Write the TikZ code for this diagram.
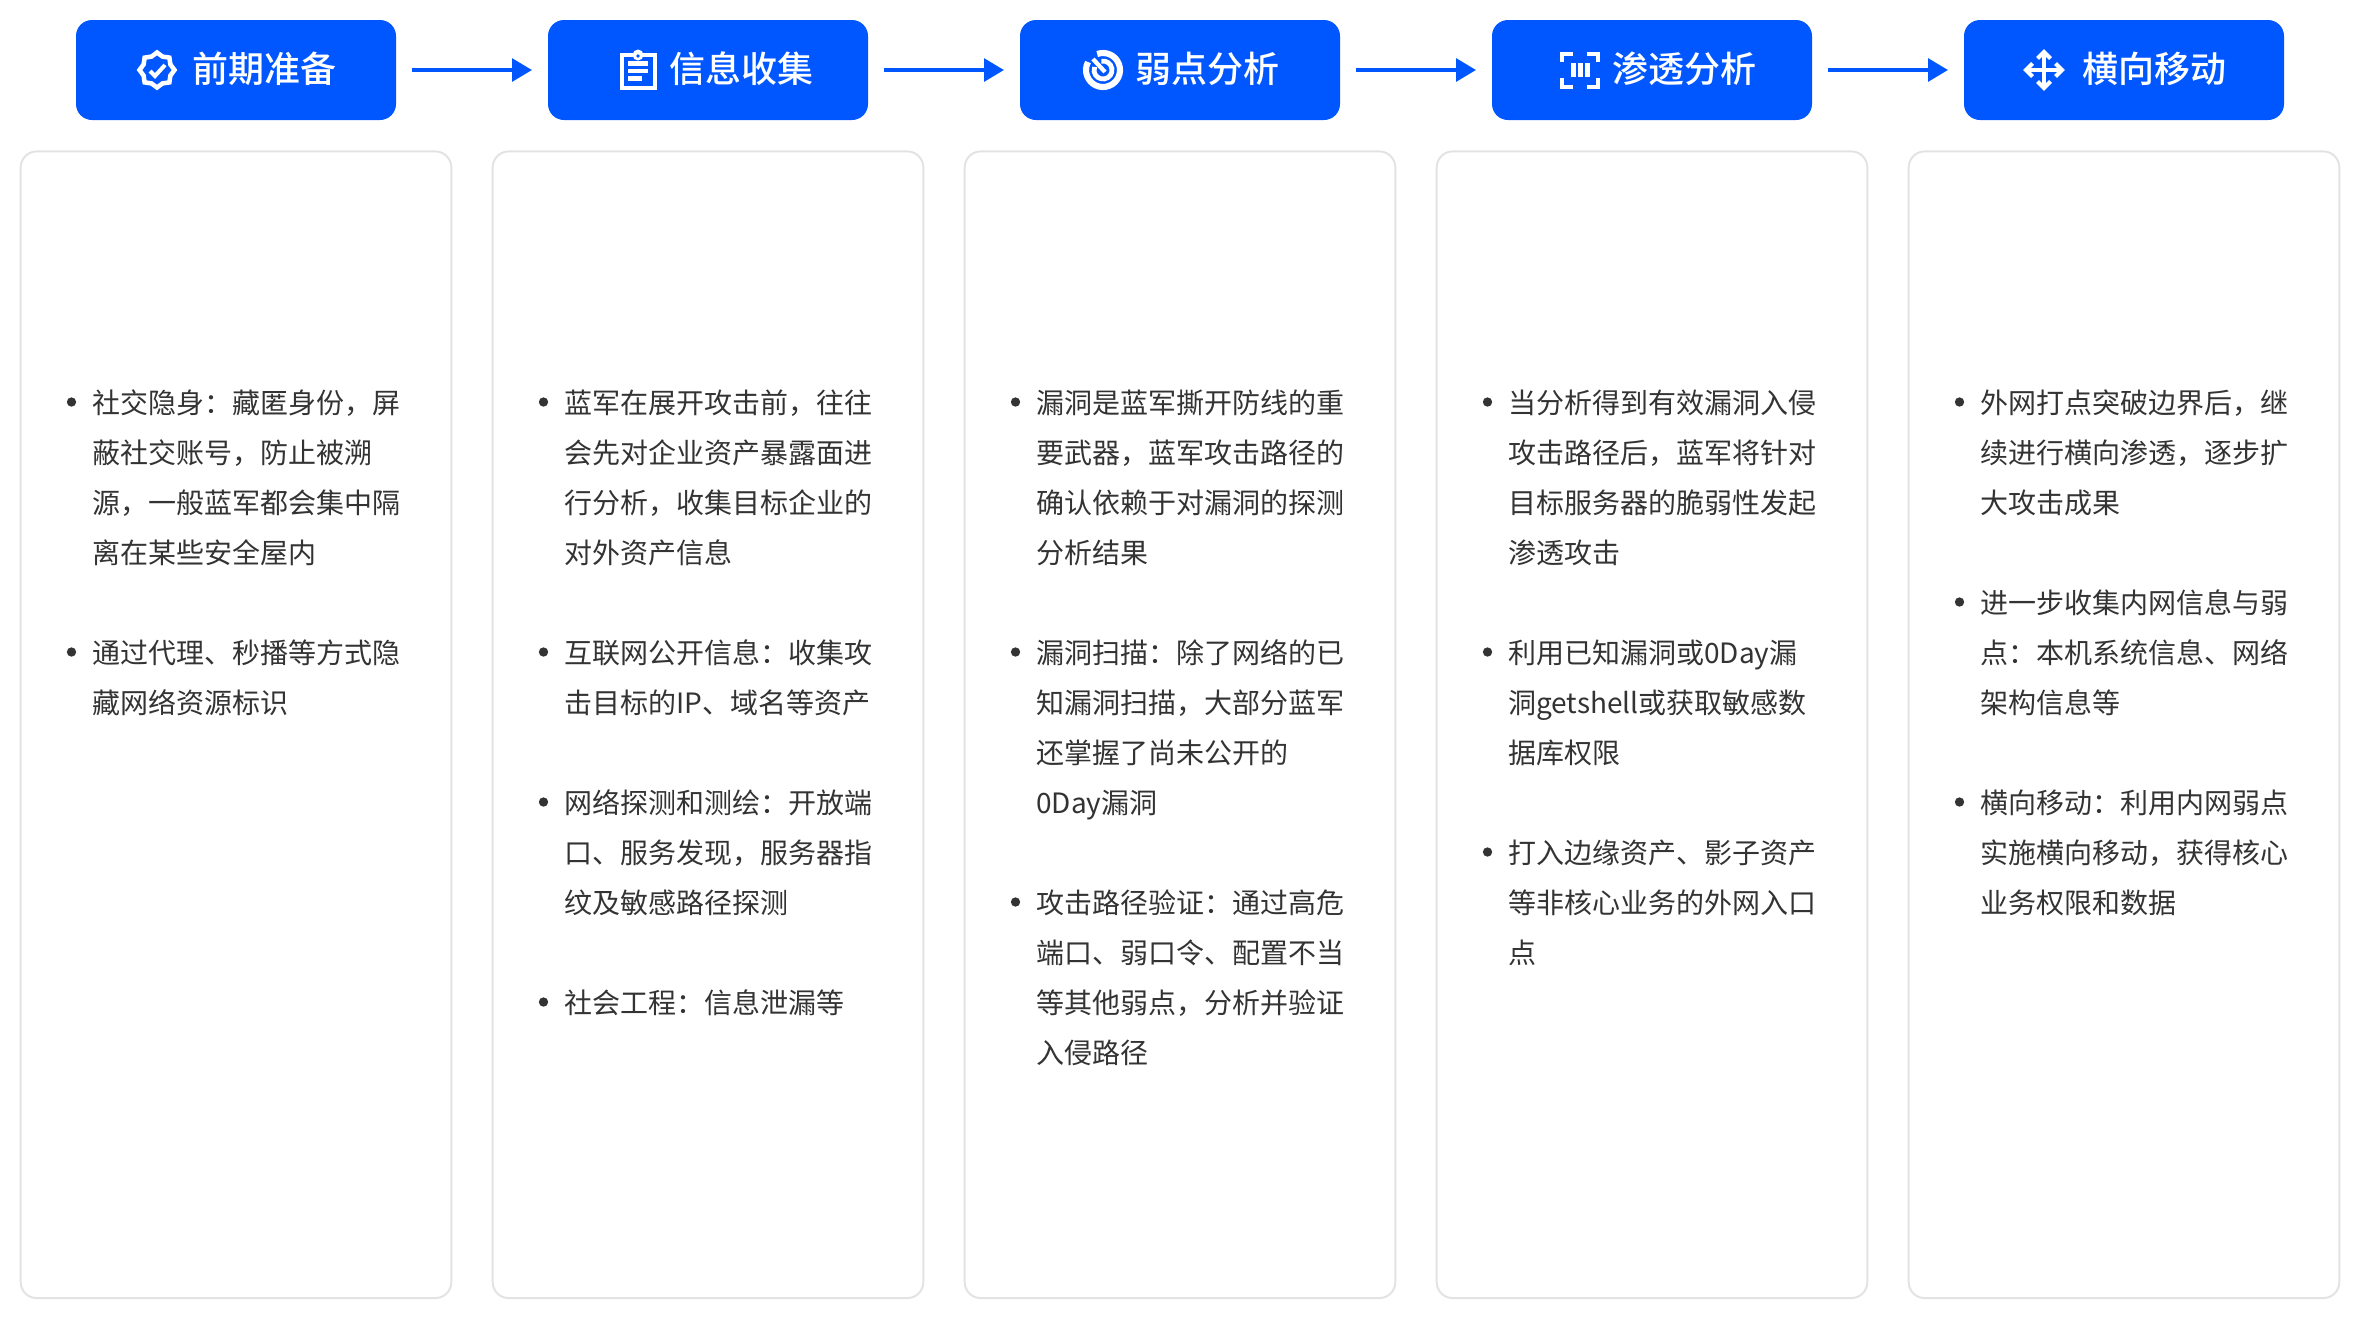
\documentclass[tikz,border=0pt]{standalone}
\usepackage{fontspec}
\usetikzlibrary{arrows.meta}
\setmainfont{Noto Sans CJK SC}
\newfontfamily\headfont[UprightFont=* Medium]{Noto Sans CJK SC}
\definecolor{headblue}{RGB}{0,87,255}
\definecolor{cardgray}{RGB}{227,227,227}
\definecolor{textgray}{RGB}{51,51,51}
\tikzset{
  headbox/.style={fill=headblue,rounded corners=12pt,minimum width=240pt,minimum height=75pt,inner sep=0pt,outer sep=0pt},
  cardbox/.style={draw=cardgray,line width=1.5pt,rounded corners=12pt,minimum width=323pt,minimum height=860pt,inner sep=0pt},
  headtext/.style={text=white,inner sep=0pt,font=\headfont\fontsize{27}{30}\selectfont},
  flowarrow/.style={draw=headblue,line width=3pt,shorten >=12pt,shorten <=12pt,-{Triangle[length=15pt,width=17pt]}},
  itemtext/.style={anchor=north west,inner sep=0pt,align=left,text=textgray,font=\fontsize{21}{37.5}\selectfont},
  itemdot/.style={circle,fill=textgray,minimum size=7pt,inner sep=0pt},
  iconline/.style={draw=white,line width=3pt}
}
\begin{document}
\begin{tikzpicture}[x=0.75pt,y=0.75pt,yscale=-1,xscale=1]
\useasboundingbox (0,0) rectangle (2360,1340);

%Rounded Rect
\node [headbox] (prepare) at (236,70) {};
\node [headbox] (collect) at (708,70) {};
\node [headbox] (weak) at (1180,70) {};
\node [headbox] (pentest) at (1652,70) {};
\node [headbox] (lateral) at (2124,70) {};

%Straight Lines
\draw [flowarrow] (prepare) -- (collect);
\draw [flowarrow] (collect) -- (weak);
\draw [flowarrow] (weak) -- (pentest);
\draw [flowarrow] (pentest) -- (lateral);

% Text Node
\node [headtext] (preparetext) at (264,69) {前期准备};
\node [headtext] (collecttext) at (741.5,69) {信息收集};
\node [headtext] (weaktext) at (1207.5,69) {弱点分析};
\node [headtext] (pentesttext) at (1684.5,69) {渗透分析};
\node [headtext] (lateraltext) at (2154.5,69) {横向移动};

%Shape: Badge
\begin{scope}[shift={(157,70)}]
\draw [iconline,line width=3.4pt,line join=miter] (0:17.5) \foreach \a in {45,90,...,360} { -- (\a-22.5:14.5) -- (\a:17.5) } -- cycle;
\draw [iconline,line join=miter] (-7,1) -- (-2,6) -- (8,-5);
\end{scope}

%Shape: Clipboard
\draw [iconline] (622,55) rectangle (655,88);
\fill [white] (638,55) circle (5.5);
\fill [headblue] (638,56) circle (1.8);
\fill [white] (628,61) rectangle (648,65.5);
\fill [white] (628,68.5) rectangle (648,73);
\fill [white] (628,76) rectangle (642,81);

%Shape: Radar
\begin{scope}[shift={(1103,70)}]
\draw [draw=white,line width=4.6pt] (-110:17) arc [start angle=-110,end angle=208,radius=17];
\draw [draw=white,line width=3.6pt] (-100:9) arc [start angle=-100,end angle=200,radius=9];
\draw [draw=white,line width=3.2pt] (2,2) -- (-10,-11);
\end{scope}

%Shape: Scan
\draw [iconline] (1562,62) -- (1562,53.5) -- (1573,53.5);
\draw [iconline] (1587,53.5) -- (1598,53.5) -- (1598,62);
\draw [iconline] (1598,78) -- (1598,86.5) -- (1587,86.5);
\draw [iconline] (1573,86.5) -- (1562,86.5) -- (1562,78);
\fill [white] (1570.5,63) rectangle (1576,77);
\fill [white] (1577.5,63) rectangle (1583,77);
\fill [white] (1584.5,63) rectangle (1590,77);

%Shape: Move
\begin{scope}[shift={(2044,70)}]
\draw [draw=white,line width=2.5pt] (-18,0) -- (18,0);
\draw [draw=white,line width=2.5pt] (0,-18) -- (0,18);
\foreach \r in {0,90,180,270} {
\draw [iconline,rotate=\r] (-6.5,-11.5) -- (0,-18) -- (6.5,-11.5);
}
\end{scope}

%Rounded Rect
\node [cardbox] (card1) at (236,724.75) {};
\node [cardbox] (card2) at (708,724.75) {};
\node [cardbox] (card3) at (1180,724.75) {};
\node [cardbox] (card4) at (1652,724.75) {};
\node [cardbox] (card5) at (2124,724.75) {};

% Text Node
\node [itemdot] (dot11) at (71.5,402) {};
\node [itemtext] (item11) at (92,389.6) {社交隐身：藏匿身份，屏\\蔽社交账号，防止被溯\\源，一般蓝军都会集中隔\\离在某些安全屋内};
\node [itemdot] (dot12) at (71.5,652) {};
\node [itemtext] (item12) at (92,639.6) {通过代理、秒播等方式隐\\藏网络资源标识};

% Text Node
\node [itemdot] (dot21) at (543.5,402) {};
\node [itemtext] (item21) at (564,389.6) {蓝军在展开攻击前，往往\\会先对企业资产暴露面进\\行分析，收集目标企业的\\对外资产信息};
\node [itemdot] (dot22) at (543.5,652) {};
\node [itemtext] (item22) at (564,639.6) {互联网公开信息：收集攻\\击目标的IP、域名等资产};
\node [itemdot] (dot23) at (543.5,802) {};
\node [itemtext] (item23) at (564,789.6) {网络探测和测绘：开放端\\口、服务发现，服务器指\\纹及敏感路径探测};
\node [itemdot] (dot24) at (543.5,1002) {};
\node [itemtext] (item24) at (564,989.6) {社会工程：信息泄漏等};

% Text Node
\node [itemdot] (dot31) at (1015.5,402) {};
\node [itemtext] (item31) at (1036,389.6) {漏洞是蓝军撕开防线的重\\要武器，蓝军攻击路径的\\确认依赖于对漏洞的探测\\分析结果};
\node [itemdot] (dot32) at (1015.5,652) {};
\node [itemtext] (item32) at (1036,639.6) {漏洞扫描：除了网络的已\\知漏洞扫描，大部分蓝军\\还掌握了尚未公开的\\0Day漏洞};
\node [itemdot] (dot33) at (1015.5,902) {};
\node [itemtext] (item33) at (1036,889.6) {攻击路径验证：通过高危\\端口、弱口令、配置不当\\等其他弱点，分析并验证\\入侵路径};

% Text Node
\node [itemdot] (dot41) at (1487.5,402) {};
\node [itemtext] (item41) at (1508,389.6) {当分析得到有效漏洞入侵\\攻击路径后，蓝军将针对\\目标服务器的脆弱性发起\\渗透攻击};
\node [itemdot] (dot42) at (1487.5,652) {};
\node [itemtext] (item42) at (1508,639.6) {利用已知漏洞或0Day漏\\洞getshell或获取敏感数\\据库权限};
\node [itemdot] (dot43) at (1487.5,852) {};
\node [itemtext] (item43) at (1508,839.6) {打入边缘资产、影子资产\\等非核心业务的外网入口\\点};

% Text Node
\node [itemdot] (dot51) at (1959.5,402) {};
\node [itemtext] (item51) at (1980,389.6) {外网打点突破边界后，继\\续进行横向渗透，逐步扩\\大攻击成果};
\node [itemdot] (dot52) at (1959.5,602) {};
\node [itemtext] (item52) at (1980,589.6) {进一步收集内网信息与弱\\点：本机系统信息、网络\\架构信息等};
\node [itemdot] (dot53) at (1959.5,802) {};
\node [itemtext] (item53) at (1980,789.6) {横向移动：利用内网弱点\\实施横向移动，获得核心\\业务权限和数据};

\end{tikzpicture}
\end{document}
